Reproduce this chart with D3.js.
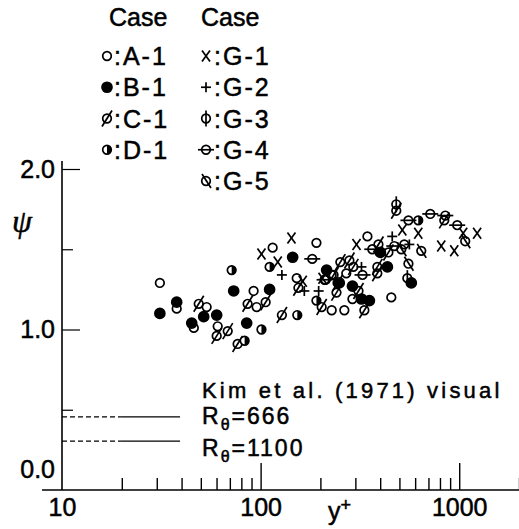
<!DOCTYPE html>
<html>
<head>
<meta charset="utf-8">
<script src="https://cdnjs.cloudflare.com/ajax/libs/d3/7.8.5/d3.min.js"></script>
<style>
  body { margin: 0; background: #fff; }
  text { font-family: "Liberation Sans", Arial, sans-serif; fill: #000; stroke: #000; stroke-width: 0.5px; }
</style>
</head>
<body>
<div id="chart"></div>
<script>

// data points, [y+, psi]
var caseA1 = [[31.1,1.29],[37.8,1.13],[46.1,1.01],[53.5,1.14],[60.8,1.02],[92.2,1.24],[95.5,1.14],
  [115,1.51],[152,1.32],[191,1.54],[228,1.34],[212,1.31],[228,1.12],[264,1.12],[270,1.35],
  [290,1.19],[345,1.58],[455,1.20],[529,1.53]];
var caseB1 = [[31.1,1.10],[37.8,1.17],[45.0,1.04],[51.7,1.08],[60.1,1.09],[73.2,1.24],[85.1,1.04],
  [111,1.25],[145,1.45],[215,1.37],[249,1.29],[290,1.27],[322,1.19],[353,1.18],[401,1.48],
  [435,1.39],[574,1.29]];
var caseC1 = [[48.8,1.16],[60.1,0.96],[68.3,0.99],[76.6,0.91],[86.0,1.16],[106,1.17],[128,1.09],
  [155,1.26],[203,1.14],[241,1.23],[244,1.29],[252,1.42],[280,1.43],[293,1.39],[233,1.34],
  [311,1.24],[333,1.12],[387,1.39],[387,1.35],[392,1.53],[440,1.48],[482,1.74],[841,1.68]];
var caseD1 = [[71.5,1.37],[111,1.39],[101,1.00],[153,1.09],[83.1,0.93],[191,1.18],[622,1.68]];
var caseG1 = [[101,1.47],[122,1.42],[143,1.57],[163,1.30],[205,1.32],[304,1.53],[517,1.62],
  [622,1.60],[812,1.52],[944,1.49],[1047,1.60],[1231,1.60]];
var caseG2 = [[128,1.34],[166,1.24],[196,1.24],[322,1.39],[460,1.58],[561,1.53]];
var caseG3 = [[482,1.78],[548,1.32]];
var caseG4 = [[182,1.44],[210,1.31],[326,1.34],[365,1.50],[471,1.52],[555,1.68],[715,1.72],
  [851,1.71],[977,1.65]];
var caseG5 = [[555,1.41],[644,1.49],[511,1.50],[1072,1.55]];

var legendLeft = ["A-1", "B-1", "C-1", "D-1"];
var legendRight = ["G-1", "G-2", "G-3", "G-4", "G-5"];

var xTicks = [10,20,30,40,50,60,70,80,90,100,200,300,400,500,600,700,800,900,1000,2000];
var xLabels = [10, 100, 1000];
var yTicks = [0, 0.5, 1, 1.5, 2];
var yLabels = [0, 1, 2];

// Kim et al. (1971) visual
var kimRe = ["666", "1100"];
var kimPsi = [0.455, 0.305];
var kimDash = [10, 19.6];
var kimSolid = [19.6, 39.3];

var W = 519, H = 529;
var svg = d3.select("#chart").append("svg").attr("width", W).attr("height", H);

var x = d3.scaleLog().domain([10, 2000]).range([62, 519]);
var y = d3.scaleLinear().domain([0, 2]).range([490, 169]);

// x axis
var xAxis = d3.axisBottom(x)
  .tickValues(xTicks)
  .tickSizeInner(-12).tickSizeOuter(0).tickPadding(8)
  .tickFormat(function(d){ return xLabels.indexOf(d) >= 0 ? String(d) : ""; });
var gx = svg.append("g").attr("transform", "translate(0," + y(0) + ")").call(xAxis);
gx.select(".domain").remove();
gx.selectAll(".tick line").attr("stroke-width", 1.4)
  .attr("y2", function(d){ return d == 10 ? 0 : (d == 100 || d == 1000 ? -27 : -12); });
gx.selectAll(".tick text").attr("font-size", 25).attr("font-family", "Liberation Sans, Arial");
svg.append("line").attr("x1", x.range()[0] - 20).attr("x2", x.range()[1])
  .attr("y1", y(0)).attr("y2", y(0)).attr("stroke", "#000").attr("stroke-width", 1.6);

// y axis
var yAxis = d3.axisLeft(y)
  .tickValues(yTicks)
  .tickSizeInner(-18).tickSizeOuter(0).tickPadding(7)
  .tickFormat(function(d){ return yLabels.indexOf(d) >= 0 ? d3.format(".1f")(d) : ""; });
var gy = svg.append("g").attr("transform", "translate(" + x(10) + ",0)").call(yAxis);
gy.select(".domain").remove();
gy.selectAll(".tick line").attr("stroke-width", 1.2)
  .attr("x2", function(d){ return d == 0 ? 0 : (d % 1 == 0 ? 18 : 11); });
gy.selectAll(".tick text").attr("font-size", 25).attr("font-family", "Liberation Sans, Arial")
  .attr("dy", function(d){ return d == 0 ? "-0.5em" : "0.32em"; });
svg.append("line").attr("x1", x(10)).attr("x2", x(10))
  .attr("y1", y(0)).attr("y2", y(2.05)).attr("stroke", "#000").attr("stroke-width", 1.6);

// axis titles
svg.append("text").attr("x", 22).attr("y", 232).attr("text-anchor", "middle")
  .style("font-family", "Liberation Serif, serif").style("font-style", "italic")
  .attr("font-size", 32).text("ψ");
svg.append("text").attr("x", 328).attr("y", 520).attr("font-size", 25)
  .text("y").append("tspan").attr("dy", -9).attr("font-size", 18).text("+");

// markers
function marker(g, type) {
  var r = 4.3;
  var c = function(fill){
    return g.append("circle").attr("r", r).attr("fill", fill).attr("stroke", "#000").attr("stroke-width", 1.7);
  };
  var ln = function(x1, y1, x2, y2){
    g.append("line").attr("x1", x1).attr("y1", y1).attr("x2", x2).attr("y2", y2)
      .attr("stroke", "#000").attr("stroke-width", 1.7);
  };
  if (type == "A-1") c("none");
  if (type == "B-1") c("#000").attr("r", 5);
  if (type == "C-1") { c("none"); ln(-5, 8, 5, -8); }
  if (type == "D-1") {
    c("#fff");
    g.append("path").attr("d", "M0," + (-r) + "A" + r + "," + r + " 0 0 1 0," + r + "Z").attr("fill", "#000");
  }
  if (type == "G-1") { ln(-4, -5.5, 4, 5.5); ln(4, -5.5, -4, 5.5); }
  if (type == "G-2") { ln(-5, 0, 5, 0); ln(0, -5, 0, 5); }
  if (type == "G-3") { c("none"); ln(0, -8, 0, 8); }
  if (type == "G-4") { c("none"); ln(-8, 0, 8, 0); }
  if (type == "G-5") { c("none"); ln(-4, -7, 5, 7); }
}

var series = [
  ["A-1", caseA1], ["B-1", caseB1], ["C-1", caseC1], ["D-1", caseD1],
  ["G-1", caseG1], ["G-2", caseG2], ["G-3", caseG3], ["G-4", caseG4], ["G-5", caseG5]
];
series.forEach(function(s){
  svg.append("g").selectAll("g").data(s[1]).join("g")
    .attr("transform", function(d){ return "translate(" + x(d[0]) + "," + y(d[1]) + ")"; })
    .each(function(){ marker(d3.select(this), s[0]); });
});

// legend
svg.append("text").attr("x", 109).attr("y", 26).attr("font-size", 25).text("Case");
svg.append("text").attr("x", 201).attr("y", 26).attr("font-size", 25).text("Case");
var rowY = d3.scaleLinear().domain([0, 4]).range([56, 181]);
legendLeft.forEach(function(k, i){
  var g = svg.append("g").attr("transform", "translate(107," + rowY(i) + ")");
  marker(g, k);
  g.append("text").attr("x", 7).attr("y", 9).attr("font-size", 25)
    .style("letter-spacing", "2px").text(":" + k);
});
legendRight.forEach(function(k, i){
  var g = svg.append("g").attr("transform", "translate(206," + rowY(i) + ")");
  marker(g, k);
  g.append("text").attr("x", 8).attr("y", 9).attr("font-size", 25)
    .style("letter-spacing", "2px").text(":" + k);
});

// Kim et al. lines and text
kimPsi.forEach(function(p, i){
  svg.append("line").attr("x1", x(kimDash[0])).attr("x2", x(kimDash[1]))
    .attr("y1", y(p)).attr("y2", y(p)).attr("stroke", "#000").attr("stroke-width", 1.3)
    .attr("stroke-dasharray", "5,3");
  svg.append("line").attr("x1", x(kimSolid[0])).attr("x2", x(kimSolid[1]))
    .attr("y1", y(p)).attr("y2", y(p)).attr("stroke", "#000").attr("stroke-width", 1.3);
});
svg.append("text").attr("x", 202).attr("y", 398).attr("font-size", 22)
  .style("letter-spacing", "3.2px").text("Kim et al. (1971) visual");
kimRe.forEach(function(re, i){
  var t = svg.append("text").attr("x", 202).attr("y", 424 + i * 32).attr("font-size", 23)
    .style("letter-spacing", "2px");
  t.append("tspan").text("R");
  t.append("tspan").attr("dy", 6).attr("font-size", 16).text("θ");
  t.append("tspan").attr("dy", -6).text("=" + re);
});

</script>
</body>
</html>
